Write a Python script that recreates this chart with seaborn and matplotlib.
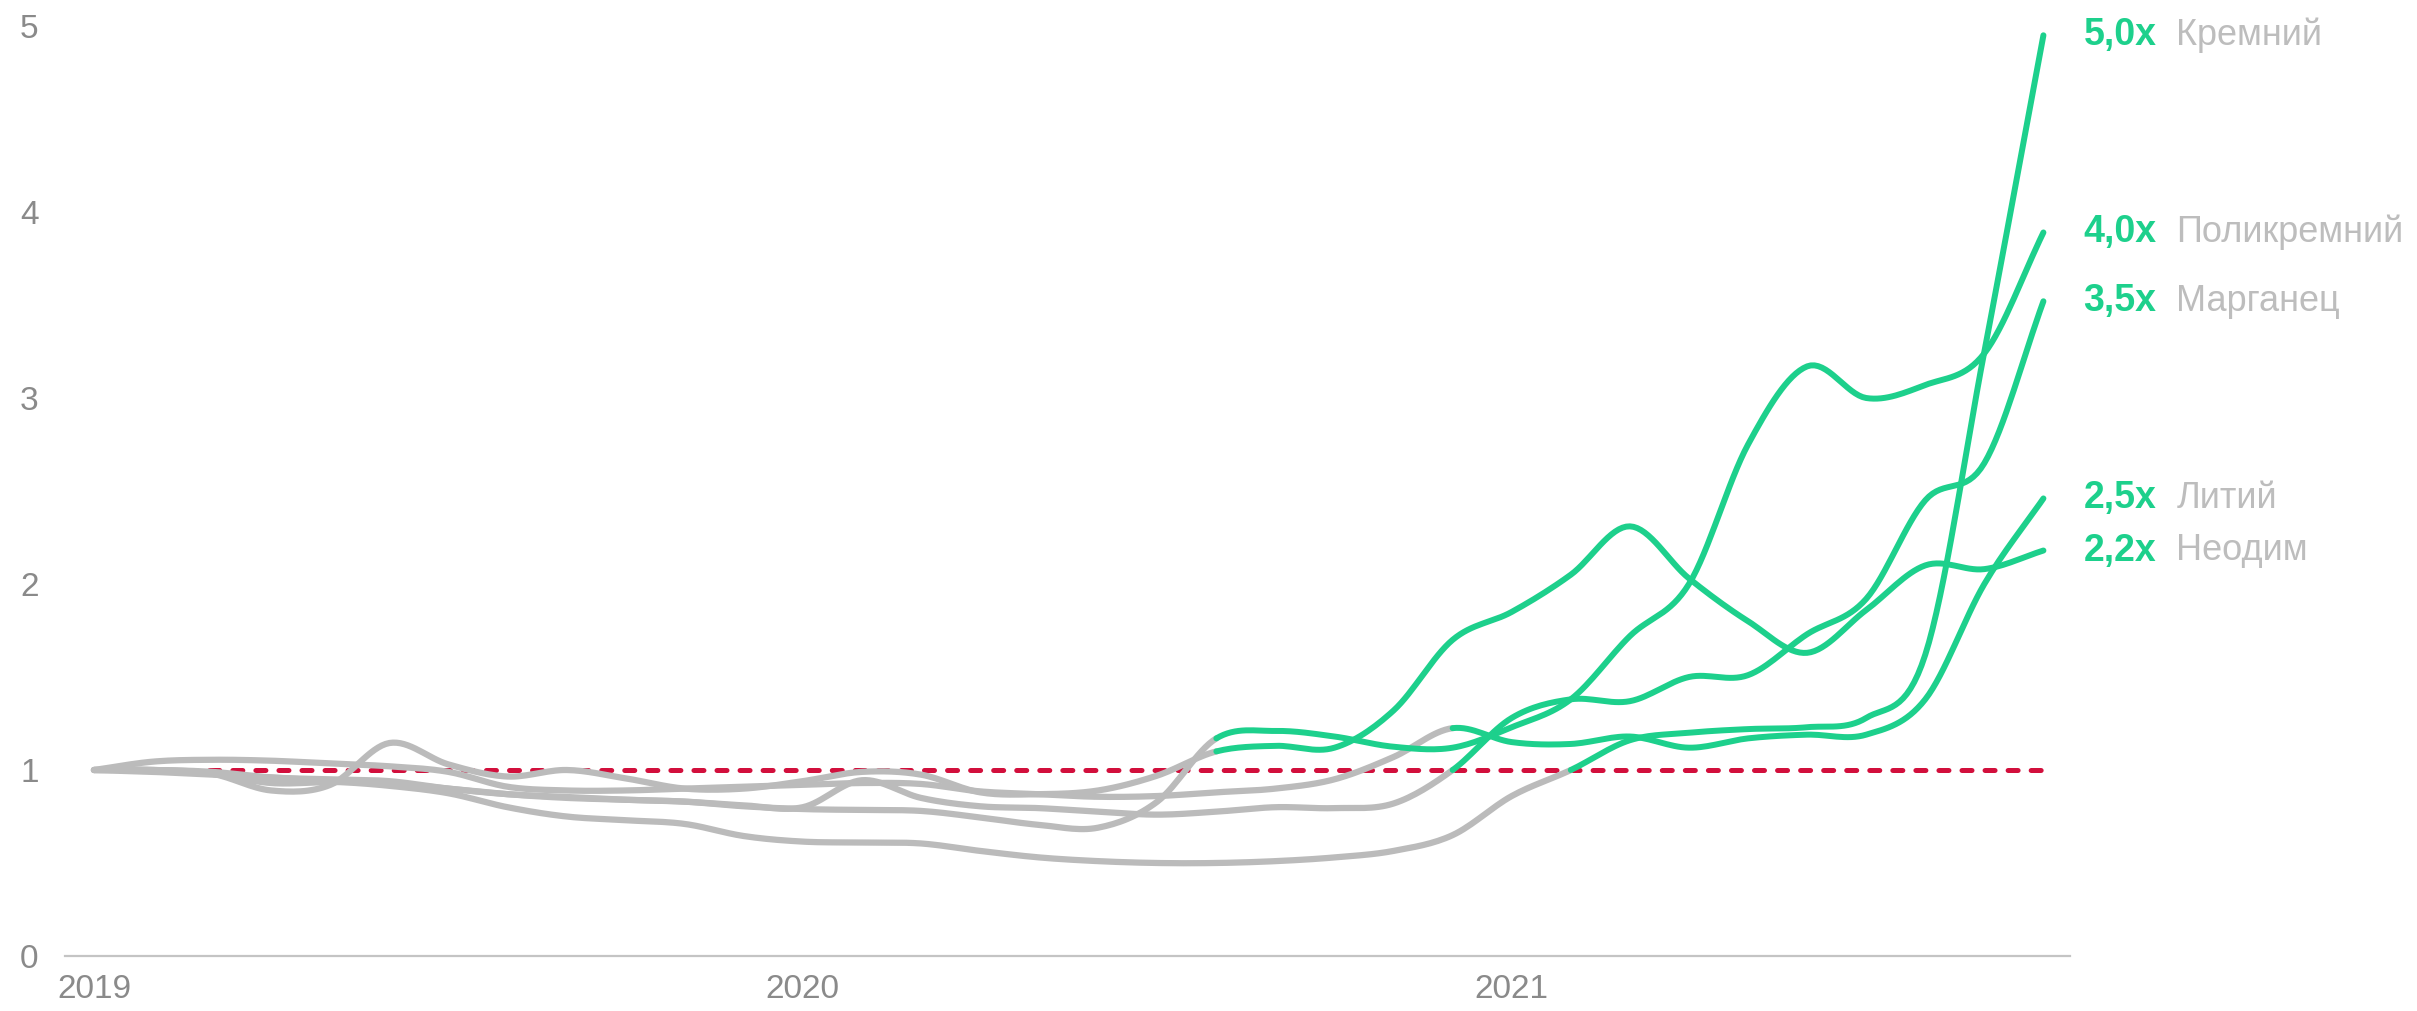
import numpy as np
import pandas as pd
import matplotlib
matplotlib.use("Agg")
import matplotlib.pyplot as plt
import seaborn as sns

# ---------------- data ----------------
months = list(range(34))            # Jan 2019 .. Oct 2021, monthly
year_ticks = [0, 12, 24]
year_labels = ["2019", "2020", "2021"]
y_ticks = [0, 1, 2, 3, 4, 5]

names = ["Кремний", "Поликремний", "Марганец", "Литий", "Неодим"]
mult_labels = ["5,0x", "4,0x", "3,5x", "2,5x", "2,2x"]

kremniy = [1.00, 0.99, 0.975, 0.96, 0.94, 0.915, 0.875, 0.80, 0.75, 0.73,
           0.71, 0.645, 0.615, 0.61, 0.605, 0.565, 0.53, 0.51, 0.50, 0.50,
           0.51, 0.53, 0.565, 0.65, 0.86, 1.00, 1.16, 1.20, 1.22, 1.23,
           1.28, 1.62, 3.25, 4.95]
polikremniy = [1.00, 1.00, 0.98, 0.93, 0.935, 0.93, 0.90, 0.87, 0.85, 0.84,
               0.83, 0.805, 0.79, 0.785, 0.78, 0.745, 0.705, 0.69, 0.83, 1.17,
               1.21, 1.18, 1.125, 1.12, 1.23, 1.38, 1.72, 2.00, 2.75, 3.17,
               3.00, 3.07, 3.24, 3.89]
marganec = [1.00, 1.00, 0.99, 0.96, 0.95, 0.94, 0.90, 0.87, 0.855, 0.84,
            0.83, 0.81, 0.80, 0.945, 0.85, 0.805, 0.795, 0.776, 0.76, 0.776,
            0.80, 0.795, 0.82, 1.00, 1.28, 1.38, 1.37, 1.50, 1.51, 1.73,
            1.92, 2.45, 2.65, 3.52]
litiy = [1.00, 1.045, 1.055, 1.05, 1.035, 1.02, 0.99, 0.91, 0.89, 0.89,
         0.90, 0.91, 0.92, 0.93, 0.925, 0.885, 0.87, 0.856, 0.86, 0.88,
         0.90, 0.95, 1.07, 1.225, 1.15, 1.14, 1.18, 1.12, 1.17, 1.19,
         1.19, 1.38, 2.00, 2.46]
neodim = [1.00, 1.00, 0.98, 0.89, 0.92, 1.145, 1.03, 0.965, 1.00, 0.955,
          0.90, 0.90, 0.94, 0.99, 0.975, 0.88, 0.87, 0.89, 0.97, 1.10,
          1.13, 1.12, 1.32, 1.70, 1.85, 2.05, 2.31, 2.03, 1.80, 1.63,
          1.86, 2.10, 2.08, 2.18]
series = [kremniy, polikremniy, marganec, litiy, neodim]
green_start = [25, 19, 23, 23, 19]   # month index where line turns green
baseline_value = 1.0

# ---------------- style ----------------
GRAY = "#BBBBBB"
GREEN = "#1DD08C"
RED = "#D20F3C"
TICK = "#8A8A8A"
NAME = "#BDBDBD"

sns.set_theme(style="white")
plt.rcParams["font.family"] = ["Liberation Sans", "DejaVu Sans"]
plt.rcParams["lines.scale_dashes"] = False


def catmull_rom(x, y, n=16):
    """Render-time Catmull-Rom curve through the data points."""
    x = np.asarray(x, float)
    y = np.asarray(y, float)
    h = np.diff(x)
    t = np.zeros_like(y)
    t[1:-1] = (y[2:] - y[:-2]) / (x[2:] - x[:-2])
    t[0] = (y[1] - y[0]) / h[0]
    t[-1] = (y[-1] - y[-2]) / h[-1]
    xs, ys = [], []
    for k in range(len(y) - 1):
        u = np.linspace(0, 1, n, endpoint=False)
        h00 = 2 * u**3 - 3 * u**2 + 1
        h10 = u**3 - 2 * u**2 + u
        h01 = -2 * u**3 + 3 * u**2
        h11 = u**3 - u**2
        xs.append(x[k] + u * h[k])
        ys.append(h00 * y[k] + h10 * h[k] * t[k] + h01 * y[k + 1] + h11 * h[k] * t[k + 1])
    xs.append([x[-1]])
    ys.append([y[-1]])
    return np.concatenate(xs), np.concatenate(ys)


W, H = 2417, 1011
fig = plt.figure(figsize=(W / 100, H / 100), dpi=100)
ax = fig.add_axes([65 / W, 55 / H, (2070 - 65) / W, (985 - 55) / H])

# reference line at 1
base_df = pd.DataFrame({"m": [months[0], months[-1]],
                        "v": [baseline_value, baseline_value]})
sns.lineplot(data=base_df, x="m", y="v", ax=ax, color=RED, lw=3.6,
             estimator=None, sort=False, zorder=1)
base_line = ax.lines[-1]
base_line.set_linestyle((0, (7.2, 9.4)))
base_line.set_dash_capstyle("round")

# build smoothed frames, split gray / green
gray_frames, green_frames = [], []
for name, vals, g in zip(names, series, green_start):
    xs, ys = catmull_rom(months, vals)
    df = pd.DataFrame({"m": xs, "v": ys, "name": name})
    gray_frames.append(df[df["m"] <= months[g]])
    green_frames.append(df[df["m"] >= months[g]])

for df in gray_frames:
    sns.lineplot(data=df, x="m", y="v", ax=ax, color=GRAY, lw=4.5,
                 estimator=None, sort=False, zorder=2,
                 solid_capstyle="round", solid_joinstyle="round")
for df in green_frames:
    sns.lineplot(data=df, x="m", y="v", ax=ax, color=GREEN, lw=4.3,
                 estimator=None, sort=False, zorder=3,
                 solid_capstyle="round", solid_joinstyle="round")

# end labels
for vals, mult, name in zip(series, mult_labels, names):
    ax.annotate(mult, xy=(months[-1], vals[-1]), xytext=(40, 0),
                textcoords="offset pixels", va="center", ha="left",
                fontsize=27, fontweight="bold", color=GREEN,
                annotation_clip=False)
    ax.annotate(name, xy=(months[-1], vals[-1]), xytext=(133, 0),
                textcoords="offset pixels", va="center", ha="left",
                fontsize=26, color=NAME, annotation_clip=False)

# axes
ax.set_xlim(-0.49, 33.45)
ax.set_ylim(0, 5)
ax.set_xticks(year_ticks)
ax.set_xticklabels(year_labels)
ax.set_yticks(y_ticks)
ax.set_yticklabels([str(t) for t in y_ticks])
ax.tick_params(axis="both", length=0, labelsize=24, labelcolor=TICK)
ax.tick_params(axis="x", pad=13)
ax.tick_params(axis="y", pad=19)
ax.set_xlabel("")
ax.set_ylabel("")
for s in ["top", "right", "left"]:
    ax.spines[s].set_visible(False)
ax.spines["bottom"].set_color("#C4C4C4")
ax.spines["bottom"].set_linewidth(1.6)
ax.grid(False)
for ln in ax.lines:
    ln.set_clip_on(False)

fig.savefig("out.png", dpi=100)
